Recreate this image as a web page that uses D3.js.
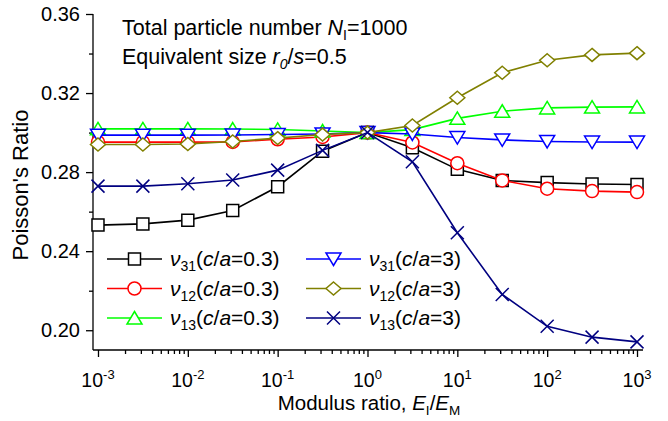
<!DOCTYPE html>
<html>
<head>
<meta charset="utf-8">
<script src="https://cdn.jsdelivr.net/npm/d3@7"></script>
<style>
  html, body { margin: 0; padding: 0; background: #fff; }
  svg text { font-family: "Liberation Sans", Arial, sans-serif; fill: #000; }
</style>
</head>
<body>
<div id="chart"></div>
<script>
// --- Data ---
const modulusRatio = [0.001, 0.00316, 0.01, 0.0316, 0.1, 0.316, 1, 3.16, 10, 31.6, 100, 316, 1000];

const v31_ca03 = [0.2532, 0.2538, 0.2557, 0.2606, 0.2726, 0.2906, 0.3000, 0.2923, 0.2814, 0.2758, 0.2747, 0.2740, 0.2737];
const v12_ca03 = [0.2952, 0.2952, 0.2952, 0.2953, 0.2966, 0.2978, 0.3000, 0.2950, 0.2845, 0.2758, 0.2716, 0.2704, 0.2699];
const v13_ca03 = [0.3019, 0.3019, 0.3019, 0.3018, 0.3016, 0.3008, 0.3000, 0.3015, 0.3072, 0.3108, 0.3125, 0.3129, 0.3130];
const v31_ca3  = [0.2987, 0.2987, 0.2987, 0.2988, 0.2990, 0.2993, 0.3000, 0.2993, 0.2975, 0.2963, 0.2955, 0.2952, 0.2952];
const v12_ca3  = [0.2940, 0.2940, 0.2942, 0.2955, 0.2972, 0.2990, 0.3000, 0.3036, 0.3176, 0.3303, 0.3366, 0.3393, 0.3402];
const v13_ca3  = [0.2729, 0.2729, 0.2741, 0.2760, 0.2810, 0.2910, 0.3000, 0.2852, 0.2493, 0.2181, 0.2020, 0.1965, 0.1941];

const yMajorTicks = [0.20, 0.24, 0.28, 0.32, 0.36];
const yMinorTicks = [0.22, 0.26, 0.30, 0.34];
const xMajorTicks = [1e-3, 1e-2, 1e-1, 1e0, 1e1, 1e2, 1e3];
const xTickExponents = ["-3", "-2", "-1", "0", "1", "2", "3"];

const series = [
  { sub: "31", ca: "0.3", values: v31_ca03, color: "#000000", marker: "square" },
  { sub: "12", ca: "0.3", values: v12_ca03, color: "#ff0000", marker: "circle" },
  { sub: "13", ca: "0.3", values: v13_ca03, color: "#00ff00", marker: "triangle" },
  { sub: "31", ca: "3",   values: v31_ca3,  color: "#0000ff", marker: "triangleDown" },
  { sub: "12", ca: "3",   values: v12_ca3,  color: "#808000", marker: "diamond" },
  { sub: "13", ca: "3",   values: v13_ca3,  color: "#000080", marker: "cross" }
];

// --- Layout ---
const width = 668, height = 421;
const plot = { left: 93, right: 643, top: 14, bottom: 350 };

const svg = d3.select("#chart").append("svg")
  .attr("width", width)
  .attr("height", height);

const x = d3.scaleLog().domain([0.00088, 1166]).range([plot.left, plot.right]);
const y = d3.scaleLinear().domain([0.19, 0.36]).range([plot.bottom, plot.top]);

// marker path generators, centred on 0,0
function markerPath(type) {
  switch (type) {
    case "square": return "M-6,-6H6V6H-6Z";
    case "circle": return "M6.5,0A6.5,6.5 0 1,1 -6.5,0A6.5,6.5 0 1,1 6.5,0Z";
    case "triangle": return "M0,-6.5L7.5,6L-7.5,6Z";
    case "triangleDown": return "M0,6.5L7.5,-6L-7.5,-6Z";
    case "diamond": return "M0,-6.5L7.5,0L0,6.5L-7.5,0Z";
    case "cross": return "M-6.5,-6.5L6.5,6.5M6.5,-6.5L-6.5,6.5";
  }
}

// --- Axes ---
const minorX = [];
xMajorTicks.slice(0, -1).forEach(d => { for (let k = 2; k <= 9; k++) minorX.push(d * k); });

const xAxisG = svg.append("g").attr("transform", `translate(0,${plot.bottom})`);
xAxisG.append("g")
  .call(d3.axisBottom(x).tickValues(minorX).tickFormat("").tickSize(4).tickSizeOuter(0))
  .call(g => g.select(".domain").remove());
xAxisG.append("g")
  .call(d3.axisBottom(x).tickValues(xMajorTicks).tickFormat("").tickSize(7).tickSizeOuter(0))
  .call(g => g.select(".domain").remove());
xAxisG.append("line")
  .attr("x1", plot.left).attr("x2", plot.right)
  .attr("stroke", "#000").attr("stroke-width", 1.3);
xAxisG.selectAll(".tick line").attr("stroke-width", 1.3);

// x tick labels 10^n
const xLabels = svg.append("g");
xMajorTicks.forEach((d, i) => {
  const t = xLabels.append("text")
    .attr("x", x(d)).attr("y", 387)
    .attr("text-anchor", "middle")
    .attr("font-size", 19.5);
  t.append("tspan").text("10");
  t.append("tspan").attr("font-size", 13).attr("dy", -8.5).text(xTickExponents[i]);
});

const yAxisG = svg.append("g").attr("transform", `translate(${plot.left},0)`);
yAxisG.append("g")
  .call(d3.axisLeft(y).tickValues(yMinorTicks).tickFormat("").tickSize(4).tickSizeOuter(0))
  .call(g => g.select(".domain").remove());
yAxisG.append("g")
  .call(d3.axisLeft(y).tickValues(yMajorTicks).tickFormat(d3.format(".2f")).tickSize(7).tickSizeOuter(0).tickPadding(6))
  .call(g => g.select(".domain").remove())
  .call(g => g.selectAll("text").attr("font-size", 20).attr("font-family", null));
yAxisG.append("line")
  .attr("y1", plot.top).attr("y2", plot.bottom)
  .attr("stroke", "#000").attr("stroke-width", 1.3);
yAxisG.selectAll(".tick line").attr("stroke-width", 1.3);

// axis titles
const xTitle = svg.append("text")
  .attr("x", (plot.left + plot.right) / 2 + 1).attr("y", 409.5)
  .attr("text-anchor", "middle").attr("font-size", 20.5);
xTitle.append("tspan").text("Modulus ratio, ");
xTitle.append("tspan").attr("font-style", "italic").text("E");
xTitle.append("tspan").attr("font-size", 13.5).attr("dy", 5).text("I");
xTitle.append("tspan").attr("dy", -5).text("/");
xTitle.append("tspan").attr("font-style", "italic").text("E");
xTitle.append("tspan").attr("font-size", 13.5).attr("dy", 5).text("M");

svg.append("text")
  .attr("transform", `translate(28,${(plot.top + plot.bottom) / 2 + 3}) rotate(-90)`)
  .attr("text-anchor", "middle").attr("font-size", 22)
  .text("Poisson's Ratio");

// --- Series ---
const line = d3.line().x((d, i) => x(modulusRatio[i])).y(d => y(d));
const seriesG = svg.append("g");
series.forEach(s => {
  const g = seriesG.append("g");
  g.append("path")
    .attr("d", line(s.values))
    .attr("fill", "none").attr("stroke", s.color).attr("stroke-width", 1.6);
  g.selectAll("path.mk").data(s.values).join("path")
    .attr("class", "mk")
    .attr("transform", (d, i) => `translate(${x(modulusRatio[i])},${y(d)})`)
    .attr("d", markerPath(s.marker))
    .attr("fill", s.marker === "cross" ? "none" : "#fff")
    .attr("stroke", s.color).attr("stroke-width", 1.5);
});

// --- Annotation ---
const note1 = svg.append("text").attr("x", 122).attr("y", 35).attr("font-size", 21.5);
note1.append("tspan").text("Total particle number ");
note1.append("tspan").attr("font-style", "italic").text("N");
note1.append("tspan").attr("font-size", 14).attr("dy", 5).text("I");
note1.append("tspan").attr("dy", -5).text("=1000");

const note2 = svg.append("text").attr("x", 122).attr("y", 64).attr("font-size", 21.5);
note2.append("tspan").text("Equivalent size ");
note2.append("tspan").attr("font-style", "italic").text("r");
note2.append("tspan").attr("font-size", 14).attr("font-style", "italic").attr("dy", 5).text("0");
note2.append("tspan").attr("dy", -5).text("/");
note2.append("tspan").attr("font-style", "italic").text("s");
note2.append("tspan").text("=0.5");

// --- Legend ---
const legendCols = [107, 306];
const legendRows = [259, 288.5, 318];
series.forEach((s, i) => {
  const lx = legendCols[Math.floor(i / 3)];
  const ly = legendRows[i % 3];
  const g = svg.append("g").attr("transform", `translate(${lx},${ly})`);
  g.append("line").attr("x1", 0).attr("x2", 55)
    .attr("stroke", s.color).attr("stroke-width", 1.6);
  g.append("path").attr("transform", "translate(27.5,0)")
    .attr("d", markerPath(s.marker))
    .attr("fill", s.marker === "cross" ? "none" : "#fff")
    .attr("stroke", s.color).attr("stroke-width", 1.5);
  const t = g.append("text").attr("x", 63).attr("y", 7).attr("font-size", 21);
  t.append("tspan").attr("font-style", "italic").text("ν");
  t.append("tspan").attr("font-size", 14).attr("dy", 5).text(s.sub);
  t.append("tspan").attr("dy", -5).text("(");
  t.append("tspan").attr("font-style", "italic").text("c");
  t.append("tspan").text("/");
  t.append("tspan").attr("font-style", "italic").text("a");
  t.append("tspan").text("=" + s.ca + ")");
});
</script>
</body>
</html>
